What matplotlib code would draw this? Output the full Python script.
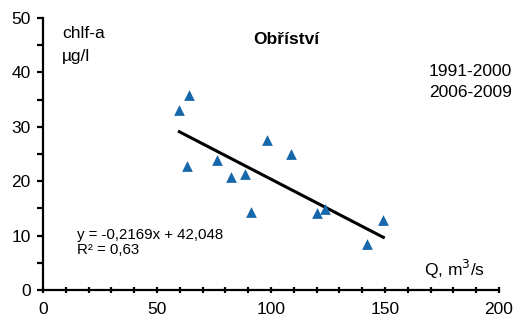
import numpy as np
import matplotlib.pyplot as plt
from matplotlib.ticker import MultipleLocator

plt.rcParams['font.family'] = ['Liberation Sans', 'DejaVu Sans']

# průtok Q (m3/s) a chlorofyl-a (ug/l)
Q = [59.8, 63.9, 63.0, 76.5, 82.5, 88.7, 91.1, 98.4, 108.9, 120.2, 123.5, 142.1, 149.3]
chlf = [33.0, 35.8, 22.8, 23.9, 20.7, 21.3, 14.3, 27.5, 24.9, 14.1, 14.8, 8.5, 12.9]
slope = -0.2169
intercept = 42.048
r2 = 0.63

fig = plt.figure(figsize=(5.14, 3.2), dpi=100)
ax = fig.add_axes([0.0837, 0.094, 0.887, 0.85])

ax.scatter(Q, chlf, marker='^', s=60, color='#1767ab', zorder=3, linewidths=0)

xl = np.array([min(Q), max(Q)])
ax.plot(xl, slope * xl + intercept, color='black', lw=2.2, zorder=2)

ax.set_xlim(0, 200)
ax.set_ylim(0, 50)
ax.xaxis.set_major_locator(MultipleLocator(50))
ax.xaxis.set_minor_locator(MultipleLocator(10))
ax.yaxis.set_major_locator(MultipleLocator(10))
ax.yaxis.set_minor_locator(MultipleLocator(5))

for s in ['top', 'right']:
    ax.spines[s].set_visible(False)
for s in ['left', 'bottom']:
    ax.spines[s].set_linewidth(1.6)

ax.tick_params(axis='x', which='both', direction='inout', length=5, width=1.6,
               labelsize=12.5, pad=6)
ax.tick_params(axis='y', which='both', direction='out', length=4, width=1.6,
               labelsize=12.5, pad=5)

fs = 12.5
ax.text(8.3, 47.2, 'chlf-a', fontsize=fs, va='center')
ax.text(8.3, 43.0, 'µg/l', fontsize=fs, va='center')
ax.text(106.6, 46.0, 'Obříství', fontsize=fs, fontweight='bold', ha='center', va='center')
ax.text(205.7, 40.1, '1991-2000', fontsize=fs, ha='right', va='center')
ax.text(205.7, 36.2, '2006-2009', fontsize=fs, ha='right', va='center')
ax.text(194, 3.7, 'Q, m$^3$/s', fontsize=fs, ha='right', va='center')
ax.text(14.9, 10.1, 'y = -0,2169x + 42,048', fontsize=10.8, va='center')
ax.text(14.9, 7.35, 'R² = 0,63', fontsize=10.8, va='center')

fig.savefig('out.png', dpi=100)
